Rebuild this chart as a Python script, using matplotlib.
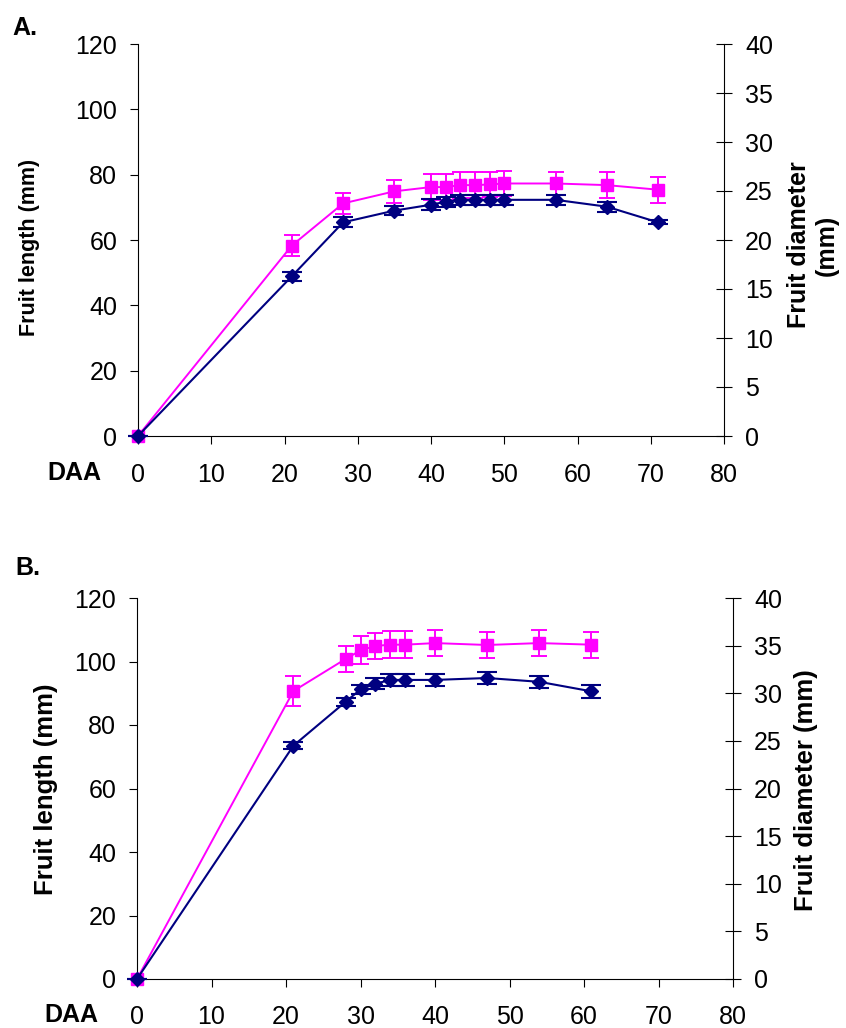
import matplotlib
matplotlib.use('Agg')
import matplotlib.pyplot as plt

plt.rcParams['font.family'] = ['Liberation Sans', 'DejaVu Sans']

# ---------------- data ----------------
# Panel A
daa_a = [0, 21, 28, 35, 40, 42, 44, 46, 48, 50, 57, 64, 71]
length_a = [0, 58.3, 71.2, 74.9, 76.2, 76.2, 76.8, 76.8, 77.0, 77.3, 77.3, 76.8, 75.4]
length_err_a = [0, 3.1, 3.2, 3.6, 3.9, 3.9, 3.9, 3.9, 3.9, 3.9, 3.5, 4.0, 4.0]
diam_a = [0, 16.3, 21.8, 23.0, 23.6, 23.9, 24.1, 24.1, 24.1, 24.1, 24.1, 23.4, 21.8]
diam_err_a = [0, 0.47, 0.5, 0.43, 0.57, 0.53, 0.53, 0.53, 0.53, 0.53, 0.5, 0.5, 0.2]

# Panel B
daa_b = [0, 21, 28, 30, 32, 34, 36, 40, 47, 54, 61]
length_b = [0, 90.7, 100.8, 103.5, 104.9, 105.3, 105.3, 105.8, 105.2, 105.8, 105.3]
length_err_b = [0, 4.75, 4.2, 4.4, 4.1, 4.2, 4.2, 4.2, 4.0, 4.2, 4.1]
diam_b = [0, 24.5, 29.1, 30.4, 31.0, 31.4, 31.4, 31.4, 31.6, 31.2, 30.2]
diam_err_b = [0, 0.35, 0.4, 0.45, 0.55, 0.6, 0.6, 0.6, 0.6, 0.65, 0.65]

x_ticks = [0, 10, 20, 30, 40, 50, 60, 70, 80]
left_ticks = [0, 20, 40, 60, 80, 100, 120]
right_ticks = [0, 5, 10, 15, 20, 25, 30, 35, 40]

MAGENTA = '#FF00FF'
NAVY = '#000080'

W, H = 846, 1028
fig = plt.figure(figsize=(W / 100, H / 100), dpi=100)


def px_rect(left, top, right, bottom):
    return [left / W, 1 - bottom / H, (right - left) / W, (bottom - top) / H]


def panel(rect, daa, length, length_err, diam, diam_err, xpad):
    ax = fig.add_axes(rect)
    ax2 = ax.twinx()
    ax.errorbar(daa, length, yerr=length_err, color=MAGENTA, marker='s',
                markersize=8.5, linewidth=1.4, elinewidth=1.4, capsize=6,
                capthick=1.4, clip_on=False, zorder=3)
    ax2.errorbar(daa, diam, yerr=diam_err, color=NAVY, marker='D',
                 markersize=6.8, linewidth=1.5, elinewidth=1.5, capsize=7,
                 capthick=1.5, clip_on=False, zorder=3)
    ax.set_xlim(0, 80)
    ax.set_ylim(0, 120)
    ax2.set_ylim(0, 40)
    ax.set_xticks(x_ticks)
    ax.set_yticks(left_ticks)
    ax2.set_yticks(right_ticks)
    for s in ['top', 'right']:
        ax.spines[s].set_visible(False)
    for s in ['top', 'left', 'bottom']:
        ax2.spines[s].set_visible(False)
    for a in (ax, ax2):
        for s in a.spines.values():
            s.set_linewidth(0.8)
    ax.tick_params(axis='x', direction='out', length=5.8, width=0.8,
                   pad=xpad, labelsize=18)
    ax.tick_params(axis='y', direction='out', length=5.5, width=0.8,
                   pad=9.5, labelsize=18)
    ax2.tick_params(axis='y', direction='inout', length=11.5, width=0.8,
                    pad=9.4, labelsize=18)
    return ax, ax2


panel(px_rect(138, 44, 724, 436), daa_a, length_a, length_err_a, diam_a, diam_err_a, 14)
panel(px_rect(137, 598, 733, 979), daa_b, length_b, length_err_b, diam_b, diam_err_b, 13.2)


def ftext(x, y, s, **kw):
    fig.text(x / W, 1 - y / H, s, **kw)


# Panel letters
ftext(12, 35, 'A.', fontsize=18, fontweight='bold', ha='left', va='baseline')
ftext(15, 575, 'B.', fontsize=18, fontweight='bold', ha='left', va='baseline')

# DAA labels
ftext(74, 480, 'DAA', fontsize=18, fontweight='bold', ha='center', va='baseline')
ftext(71, 1022, 'DAA', fontsize=18, fontweight='bold', ha='center', va='baseline')

# Y labels
ftext(30, 247, 'Fruit length (mm)', fontsize=15.5, fontweight='bold',
      rotation=90, ha='center', va='center')
ftext(813, 245, 'Fruit diameter\n(mm)', fontsize=18, fontweight='bold',
      rotation=90, ha='center', va='center', multialignment='center')
ftext(46, 789, 'Fruit length (mm)', fontsize=18.5, fontweight='bold',
      rotation=90, ha='center', va='center')
ftext(806, 790, 'Fruit diameter (mm)', fontsize=18.5, fontweight='bold',
      rotation=90, ha='center', va='center')

fig.savefig('out.png', dpi=100)
